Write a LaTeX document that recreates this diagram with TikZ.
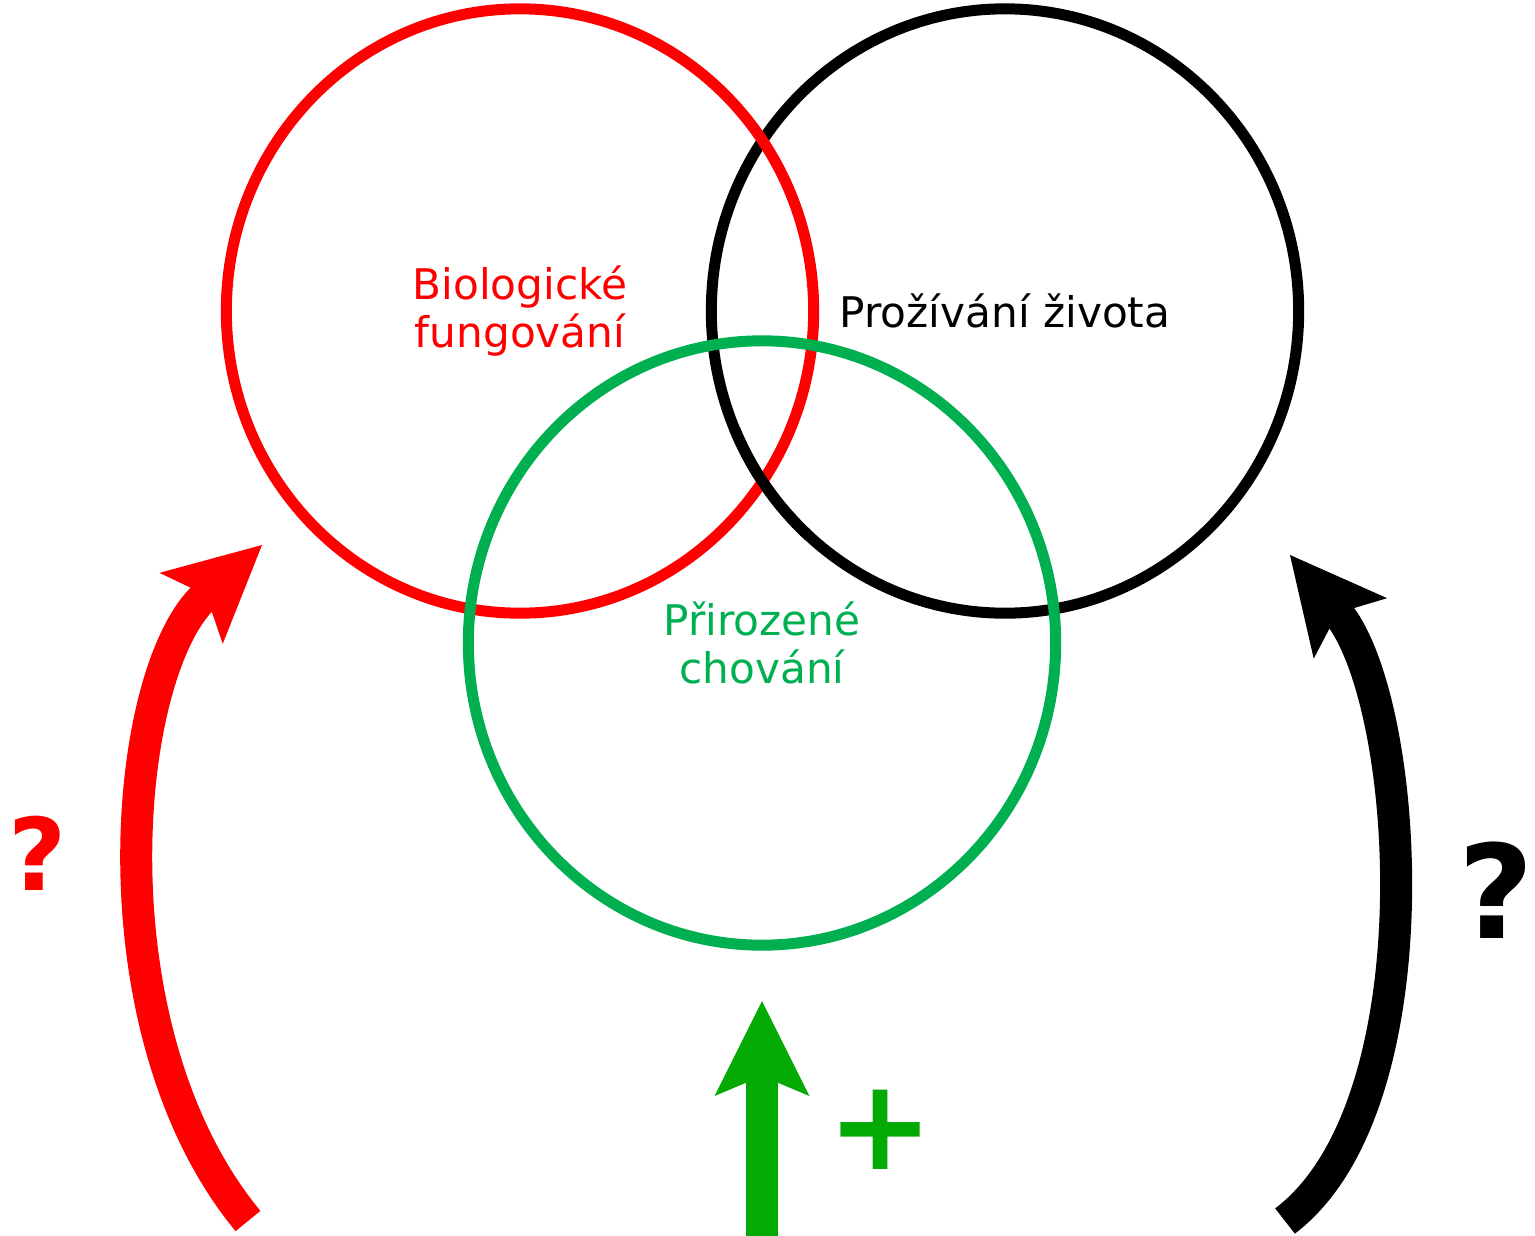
\documentclass[tikz,border=0pt]{standalone}
\usepackage{fontspec}
\setmainfont{DejaVu Sans}
\usetikzlibrary{arrows.meta,shapes.geometric}
\definecolor{ringgreen}{RGB}{0,176,80}
\definecolor{arrowgreen}{RGB}{4,170,4}
\tikzset{
  ring/.style={ellipse, draw, line width=0.11cm, inner sep=0pt,
    minimum width=5.87cm, minimum height=6.04cm, align=center,
    font=\fontsize{12}{13.5}\selectfont},
  bigarrow/.style={line width=0.32cm,
    -{Stealth[length=0.95cm, width=0.95cm, inset=0.2cm, line width=0pt]}},
  qmark/.style={font=\bfseries\fontsize{#1}{#1}\selectfont, inner sep=0pt}
}
\begin{document}
\begin{tikzpicture}[x=0.01cm, y=-0.01cm]
    \useasboundingbox (0,0) rectangle (1535,1236);

    \node[ring, black] (prozivani) at (1005,311) {Prožívání života};
    \node[ring, red] (biologicke) at (520,311) {Biologické\\fungování};
    \draw[black, line width=0.11cm] ([shift={(203:2.935cm and 3.02cm)}]prozivani.center)
        arc[start angle=203, end angle=228, x radius=2.935cm, y radius=3.02cm];
    \node[ring, ringgreen] (chovani) at (762,643) {Přirozené\\chování};

    \coordinate (bioStart) at (248,1221);
    \coordinate (bioTip) at (262,545);
    \draw[bigarrow, red] (bioStart) .. controls (90,1030) and (122,670) .. (bioTip);

    \coordinate (zivStart) at (1285,1221);
    \coordinate (zivTip) at (1290,555);
    \draw[bigarrow, black] (zivStart) .. controls (1437,1106) and (1411,702) .. (zivTip);

    \coordinate (chovStart) at (762,1236);
    \coordinate (chovTip) at (762,1001);
    \draw[bigarrow, arrowgreen] (chovStart) -- (chovTip);

    \node[qmark=28.5, red] (bioQ) at (38,853) {?};
    \node[qmark=37, black] (zivQ) at (1496,890) {?};
    \node[qmark=36, arrowgreen] (chovPlus) at (881,1130) {+};
\end{tikzpicture}
\end{document}
